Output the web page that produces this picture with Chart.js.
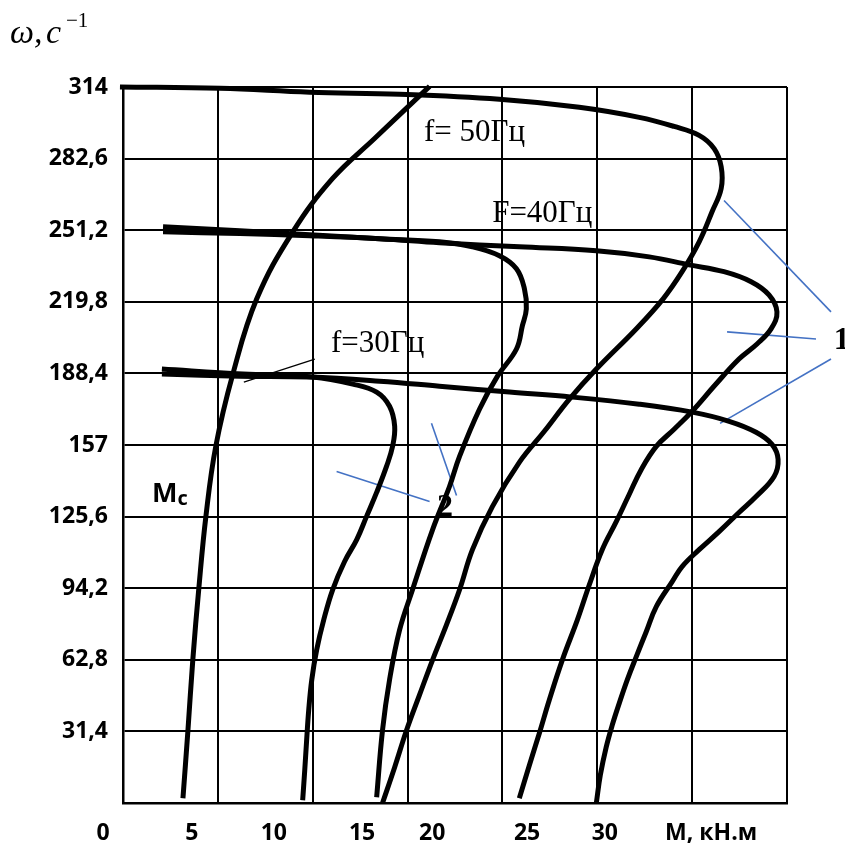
<!DOCTYPE html>
<html>
<head>
<meta charset="utf-8">
<script src="https://cdn.jsdelivr.net/npm/chart.js@4.4.1/dist/chart.umd.min.js"></script>
<style>
  html, body { margin: 0; padding: 0; background: #fff; }
  canvas { display: block; }
</style>
</head>
<body>
<canvas id="chart" width="845" height="843"></canvas>
<script>
// Сетка и подписи осей
const xGrid = [0, 5, 10, 15, 20, 25, 30, 35];
const yTicks = [0, 31.4, 62.8, 94.2, 125.6, 157, 188.4, 219.8, 251.2, 282.6, 314];
const yTickLabels = ['', '31,4', '62,8', '94,2', '125,6', '157', '188,4', '219,8', '251,2', '282,6', '314'];
const xTickLabels = ['0', '5', '10', '15', '20', '25', '30', 'М, кН.м'];
const xTickAt = [-1.05, 3.63, 7.95, 12.6, 16.3, 21.3, 25.4, 31.0];

// Механическая характеристика нагрузки Mc
const mcM = [3.16, 3.42, 3.68, 4.0, 4.37, 4.89, 5.79, 7.05, 8.95, 11.05, 13.26, 16.16];
const mcW = [2.1, 31.5, 62.8, 94.4, 125.7, 156.4, 188.1, 221.1, 250.5, 273.9, 291.4, 314.3];

// f = 50 Гц (кривая 1)
const f50M = [-0.16, 5.11, 9.84, 14.58, 19.84, 24.05, 27.21, 29.05, 30.37, 31.16, 31.53, 31.53, 31.05, 30.37, 29.47, 28.47, 27.05, 24.95, 23.53, 22.21, 20.89, 19.47, 18.42, 17.74, 17.05, 16.32, 15.63, 14.95, 14.32, 13.68];
const f50W = [314.0, 313.4, 311.7, 310.8, 308.6, 305.1, 300.7, 296.7, 292.8, 287.0, 279.1, 269.5, 259.3, 246.1, 233.0, 221.1, 207.9, 190.3, 177.1, 163.0, 149.4, 130.0, 111.1, 93.5, 78.1, 62.8, 47.4, 32.0, 15.7, 0];

// f = 40 Гц (кривая 1)
const f40aM = [2.11, 6.16, 9.84, 13.53, 16.68, 20.89, 24.95, 27.74, 29.84, 31.68, 33.11, 34.05, 34.47, 34.16, 33.42, 32.47, 31.21, 30.0, 29.05, 28.11, 27.32, 26.68, 26.0, 25.26, 24.58, 23.95, 23.16, 22.47, 21.95, 21.42, 20.89];
const f40aW = [250.5, 249.7, 248.8, 247.5, 245.7, 243.9, 242.2, 239.5, 236.0, 233.0, 228.6, 222.8, 215.4, 207.9, 201.3, 194.7, 183.3, 171.8, 163.9, 156.4, 146.3, 135.3, 123.4, 111.1, 95.7, 80.3, 62.8, 45.2, 30.7, 16.6, 2.1];

// f = 40 Гц (кривая 2)
const f40bM = [2.11, 6.16, 9.84, 13.53, 16.68, 18.42, 19.84, 20.74, 21.16, 21.26, 21.05, 20.74, 19.74, 18.79, 17.74, 17.21, 16.32, 15.26, 14.58, 14.05, 13.68, 13.37];
const f40bW = [252.7, 251.0, 249.2, 247.5, 246.1, 243.9, 240.0, 234.3, 225.5, 216.7, 209.2, 199.1, 187.2, 172.7, 152.0, 138.8, 119.9, 93.5, 75.9, 54.0, 32.0, 2.5];

// f = 30 Гц (кривая 1)
const f30aM = [2.05, 6.16, 9.84, 13.53, 16.68, 20.37, 23.68, 27.21, 30.0, 31.95, 33.37, 34.21, 34.53, 34.32, 33.37, 32.47, 31.42, 30.37, 29.47, 28.95, 28.11, 27.58, 27.05, 26.58, 26.16, 25.79, 25.47, 25.16, 24.95];
const f30aW = [188.1, 187.2, 186.8, 185.0, 182.8, 180.2, 178.0, 174.9, 171.4, 167.4, 162.6, 157.3, 150.7, 143.2, 134.4, 127.4, 119.0, 111.1, 103.7, 97.1, 86.1, 75.1, 64.1, 54.0, 43.8, 34.2, 24.5, 12.2, 0];

// f = 30 Гц (кривая 2)
const f30bM = [2.05, 6.32, 10.0, 12.11, 13.37, 14.05, 14.32, 14.21, 13.89, 13.37, 12.84, 12.32, 11.68, 11.05, 10.58, 10.21, 9.95, 9.79, 9.68, 9.58, 9.47];
const f30bW = [190.3, 188.1, 186.8, 183.7, 180.2, 174.0, 165.2, 156.4, 147.6, 136.2, 125.7, 115.5, 105.9, 93.5, 80.3, 67.2, 54.0, 40.8, 27.6, 14.4, 1.2];

// выноски к подписям "1", "2" и "f=30Гц"
const leaders1 = [[31.68, 264.2, 37.32, 215.4], [31.84, 206.6, 36.53, 203.5], [37.32, 194.7, 31.47, 166.5]];
const leaders2 = [[11.26, 145.4, 16.16, 132.2], [16.26, 166.5, 17.58, 134.9]];
const leader30 = [10.11, 194.7, 6.37, 184.6];

const SANS = "'Open Sans'";

const toPts = (xs, ys) => xs.map((x, i) => ({ x: x, y: ys[i] }));
const seg = s => [{ x: s[0], y: s[1] }, { x: s[2], y: s[3] }];

function curve(xs, ys) {
    return {
        data: toPts(xs, ys),
        showLine: true,
        borderColor: '#000',
        borderWidth: 5,
        pointRadius: 0,
        tension: 0.4,
        clip: false
    };
}

function leader(s, color) {
    return {
        data: seg(s),
        showLine: true,
        borderColor: color,
        borderWidth: color === '#000' ? 1.3 : 1.6,
        pointRadius: 0,
        tension: 0,
        clip: false
    };
}

const datasets = [
    curve(mcM, mcW),
    curve(f50M, f50W),
    curve(f40aM, f40aW),
    curve(f40bM, f40bW),
    curve(f30aM, f30aW),
    curve(f30bM, f30bW),
    ...leaders1.map(s => leader(s, '#4472C4')),
    ...leaders2.map(s => leader(s, '#4472C4')),
    leader(leader30, '#000')
];

// Подписи на поле графика
const textPlugin = {
    id: 'texts',
    afterDatasetsDraw(chart) {
        const { ctx } = chart;
        const x = chart.scales.x, y = chart.scales.y;
        ctx.save();
        ctx.fillStyle = '#000';
        ctx.textBaseline = 'alphabetic';

        ctx.font = '31px "Liberation Serif"';
        ctx.textAlign = 'center';
        ctx.fillText('f= 50Гц', x.getPixelForValue(18.53), y.getPixelForValue(290.1));
        ctx.fillText('F=40Гц', x.getPixelForValue(22.1), y.getPixelForValue(254.9));
        ctx.fillText('f=30Гц', x.getPixelForValue(13.42), y.getPixelForValue(197.6));

        ctx.textAlign = 'left';
        ctx.font = 'bold 32px "Liberation Serif"';
        ctx.fillText('1', x.getPixelForValue(37.47), y.getPixelForValue(199));
        ctx.fillText('2', x.getPixelForValue(16.55), y.getPixelForValue(125.7));

        ctx.font = 'bold 27px ' + SANS;
        const mx = x.getPixelForValue(1.53), my = y.getPixelForValue(131.8);
        ctx.fillText('M', mx, my);
        const mw = ctx.measureText('M').width;
        ctx.font = 'bold 20px ' + SANS;
        ctx.fillText('c', mx + mw, my + 3);

        // подпись оси ω, c^-1
        ctx.font = 'italic 34px "Liberation Serif"';
        ctx.fillText('ω,', 10, 43);
        ctx.fillText('c', 46, 43);
        ctx.font = '21px "Liberation Serif"';
        ctx.fillText('−1', 66, 27);
        ctx.restore();
    }
};

const tickFont = { family: SANS, weight: 'bold', size: 23 };

new Chart(document.getElementById('chart'), {
    type: 'scatter',
    data: { datasets: datasets },
    options: {
        responsive: false,
        animation: false,
        devicePixelRatio: 1,
        layout: { padding: { top: 87, right: 58, left: 0, bottom: 0 } },
        plugins: { legend: { display: false }, tooltip: { enabled: false } },
        scales: {
            x: {
                type: 'linear',
                position: 'bottom',
                min: 0,
                max: 35,
                weight: 0,
                afterBuildTicks: s => { s.ticks = xGrid.map(v => ({ value: v })); },
                afterFit: s => { s.height = 0; },
                ticks: { display: false },
                grid: { color: '#000', lineWidth: 2, drawTicks: false },
                border: { color: '#000', width: 2.5 }
            },
            x2: {
                type: 'linear',
                position: 'bottom',
                min: 0,
                max: 35,
                weight: 1,
                afterBuildTicks: s => { s.ticks = xTickAt.map(v => ({ value: v })); },
                afterFit: s => { s.height = 40; },
                grid: { display: false, drawTicks: false },
                border: { display: false },
                ticks: {
                    autoSkip: false,
                    maxRotation: 0,
                    padding: 17,
                    color: '#000',
                    font: tickFont,
                    callback: (v, i) => xTickLabels[i]
                }
            },
            y: {
                type: 'linear',
                min: 0,
                max: 314,
                afterBuildTicks: s => { s.ticks = yTicks.map(v => ({ value: v })); },
                afterFit: s => { s.width = 123; },
                grid: { color: '#000', lineWidth: 2, drawTicks: false },
                border: { color: '#000', width: 2.5 },
                ticks: {
                    padding: 15,
                    color: '#000',
                    font: tickFont,
                    callback: (v, i) => yTickLabels[i]
                }
            }
        }
    },
    plugins: [textPlugin]
});
</script>
</body>
</html>
